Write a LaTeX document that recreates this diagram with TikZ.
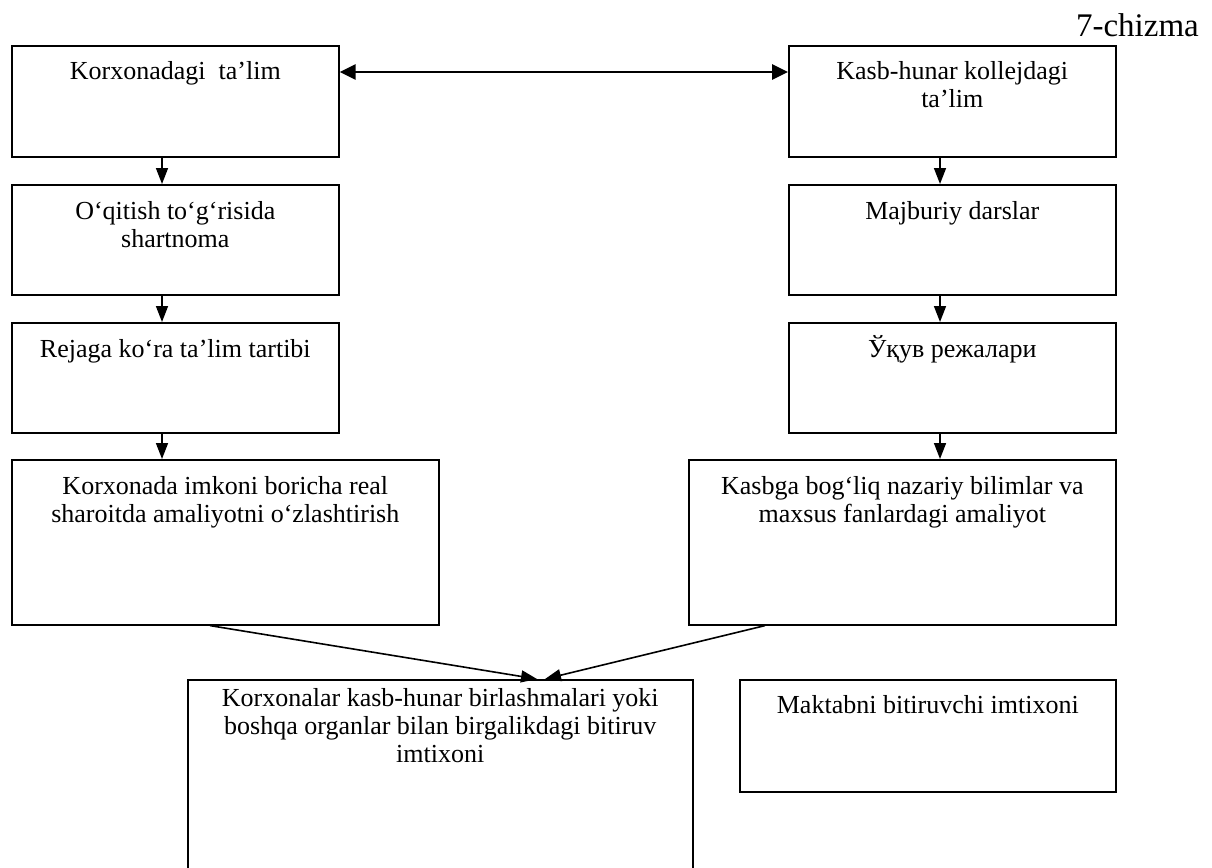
\documentclass[tikz,border=0pt]{standalone}
\usepackage{fontspec}
\setmainfont{Liberation Serif}
\usetikzlibrary{arrows.meta}
\newcommand{\bxt}[4]{\parbox[c][#2][t]{#1}{\centering\fontsize{26}{28}\selectfont\rule{0pt}{#3}#4\par}}
\tikzset{
  box/.style={draw, line width=1.6pt, inner sep=0pt, anchor=north west},
  arr/.style={line width=1.6pt, -{Triangle[length=16pt,width=12pt]}},
  dbl/.style={line width=2.8pt, {Triangle[length=16pt,width=15pt]}-{Triangle[length=16pt,width=15pt]}},
}
\begin{document}
\begin{tikzpicture}[x=1pt,y=-1pt]
\useasboundingbox (0,0) rectangle (1212,867);
\node[anchor=base east, inner sep=0pt, font=\fontsize{33}{33}\selectfont] (title) at (1199,37) {7-chizma};
% left column
\node[box] (k1) at (11,45)  {\bxt{327pt}{111pt}{34pt}{Korxonadagi\ \ ta’lim}};
\node[box] (k2) at (11,184) {\bxt{327pt}{110pt}{35pt}{O‘qitish to‘g‘risida\\shartnoma}};
\node[box] (k3) at (11,322) {\bxt{327pt}{110pt}{35pt}{Rejaga ko‘ra ta’lim tartibi}};
\node[box] (k4) at (11,459) {\bxt{427pt}{165pt}{35pt}{Korxonada imkoni boricha real\\sharoitda amaliyotni o‘zlashtirish}};
% right column
\node[box] (c1) at (788,45)  {\bxt{327pt}{111pt}{34pt}{Kasb-hunar kollejdagi\\ta’lim}};
\node[box] (c2) at (788,184) {\bxt{327pt}{110pt}{35pt}{Majburiy darslar}};
\node[box] (c3) at (788,322) {\bxt{327pt}{110pt}{35pt}{Ўқув режалари}};
\node[box] (c4) at (688,459) {\bxt{427pt}{165pt}{35pt}{Kasbga bog‘liq nazariy bilimlar va\\maxsus fanlardagi amaliyot}};
% bottom
\node[box] (ex) at (187,679) {\bxt{505pt}{200pt}{27pt}{Korxonalar kasb-hunar birlashmalari yoki\\boshqa organlar bilan birgalikdagi bitiruv\\imtixoni}};
\node[box] (mk) at (739,679) {\bxt{376pt}{112pt}{34pt}{Maktabni bitiruvchi imtixoni}};
% connectors
\coordinate (xl) at (162,0);
\coordinate (xr) at (940,0);
\coordinate (yt) at (0,72);
\draw[dbl] (k1.east |- yt) -- (c1.west |- yt);
\draw[arr] (xl |- k1.south) -- (xl |- k2.north);
\draw[arr] (xl |- k2.south) -- (xl |- k3.north);
\draw[arr] (xl |- k3.south) -- (xl |- k4.north);
\draw[arr] (xr |- c1.south) -- (xr |- c2.north);
\draw[arr] (xr |- c2.south) -- (xr |- c3.north);
\draw[arr] (xr |- c3.south) -- (xr |- c4.north);
\coordinate (ml) at (210,0);
\coordinate (mr) at (765,0);
\coordinate (tipl) at (537,0);
\coordinate (tipr) at (545,0);
\draw[arr] (ml |- k4.south) -- (tipl |- ex.north);
\draw[arr] (mr |- c4.south) -- (tipr |- ex.north);
\end{tikzpicture}
\end{document}
